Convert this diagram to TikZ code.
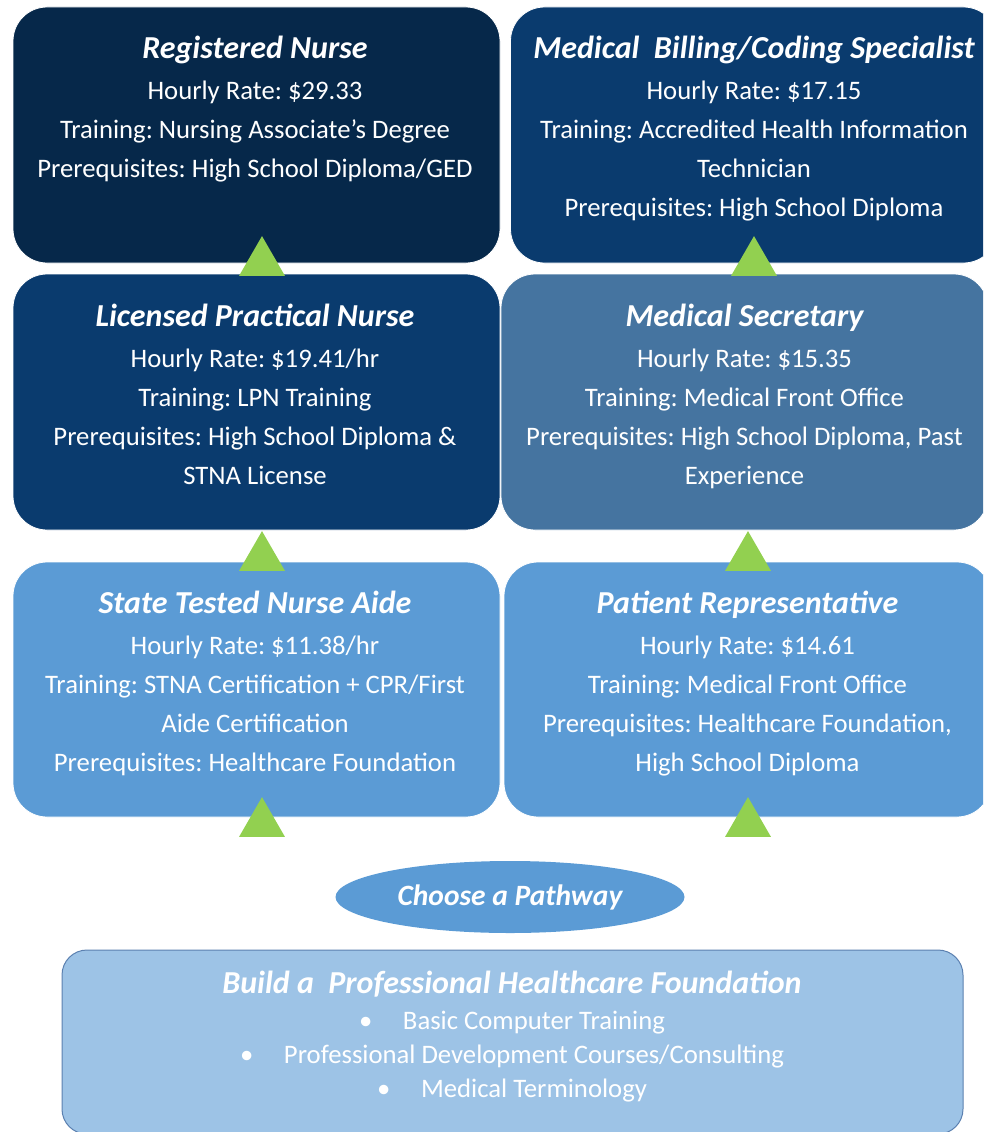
\documentclass[tikz,border=0pt]{standalone}
\usepackage{fontspec}
\setmainfont{Carlito}
\usetikzlibrary{shapes.geometric}
\frenchspacing
\definecolor{navyrn}{HTML}{06284A}
\definecolor{navymid}{HTML}{0A3B6E}
\definecolor{steelsec}{HTML}{4574A0}
\definecolor{skyblue}{HTML}{5B9BD5}
\definecolor{paleblue}{HTML}{9DC3E6}
\definecolor{paleline}{HTML}{5B80B0}
\definecolor{stepgreen}{HTML}{92D050}
\tikzset{
  jobbox/.style={rectangle, rounded corners=34, draw=white, line width=0.8pt, minimum width=487, minimum height=256, inner sep=0},
  jobtext/.style={text=white, align=center, anchor=north, inner sep=0, font={\fontsize{26.7}{39}\selectfont}},
  uptri/.style={regular polygon, regular polygon sides=3, fill=stepgreen, minimum size=53, inner sep=0, outer sep=0},
}
\newcommand{\jobtitle}[1]{{\fontsize{32}{39}\selectfont\bfseries\itshape #1}}
\begin{document}
\begin{tikzpicture}[x=1pt,y=-1pt]
  \useasboundingbox (0,0) rectangle (983,1132);
  \clip (0,0) rectangle (983,1132);
  % boxes
  \node[jobbox, fill=navyrn] (rn) at (256.5,135) {};
  \node[jobbox, fill=navymid] (mbc) at (754,135) {};
  \node[jobbox, fill=navymid] (lpn) at (256.5,402) {};
  \node[jobbox, fill=steelsec] (msec) at (744.5,402) {};
  \node[jobbox, fill=skyblue, minimum height=255] (stna) at (256.5,689.5) {};
  \node[jobbox, fill=skyblue, minimum height=255] (prep) at (747.5,689.5) {};
  \node[rectangle, rounded corners=25, fill=paleblue, draw=paleline, line width=1pt, minimum width=901, minimum height=184] (found) at (512.5,1042) {};
  \node[ellipse, fill=skyblue, minimum width=349, minimum height=72, inner sep=0, text=white, font={\fontsize{29.5}{32}\selectfont\bfseries\itshape}] (path) at (510,897) {Choose a Pathway};
  % texts
  \node[jobtext] (rntext) at (255,36) {\jobtitle{Registered Nurse}\\[2pt]Hourly Rate: \$29.33\\Training: Nursing Associate’s Degree\\Prerequisites: High School Diploma/GED};
  \node[jobtext] (mbctext) at (754,36) {\jobtitle{Medical\ \ Billing/Coding Specialist}\\[2pt]Hourly Rate: \$17.15\\Training: Accredited Health Information\\Technician\\Prerequisites: High School Diploma};
  \node[jobtext] (lpntext) at (255,304) {\jobtitle{Licensed Practical Nurse}\\[2pt]Hourly Rate: \$19.41/hr\\Training: LPN Training\\Prerequisites: High School Diploma \&\\STNA License};
  \node[jobtext] (msectext) at (744.5,304) {\jobtitle{Medical Secretary}\\[2pt]Hourly Rate: \$15.35\\Training: Medical Front Office\\Prerequisites: High School Diploma, Past\\Experience};
  \node[jobtext] (stnatext) at (255,591) {\jobtitle{State Tested Nurse Aide}\\[2pt]Hourly Rate: \$11.38/hr\\Training: STNA Certification + CPR/First\\Aide Certification\\Prerequisites: Healthcare Foundation};
  \node[jobtext] (preptext) at (747.5,591) {\jobtitle{Patient Representative}\\[2pt]Hourly Rate: \$14.61\\Training: Medical Front Office\\Prerequisites: Healthcare Foundation,\\High School Diploma};
  \node[jobtext, font={\fontsize{26.7}{34}\selectfont}] (foundtext) at (512,971) {\jobtitle{Build a\ \ Professional Healthcare Foundation}\\[2pt]\makebox[44pt][l]{\textbullet}Basic Computer Training\\\makebox[44pt][l]{\textbullet}Professional Development Courses/Consulting\\\makebox[44pt][l]{\textbullet}Medical Terminology};
  % steps up
  \node[uptri] (rnup) at (262,262.6) {};
  \node[uptri] (mbcup) at (754,262.6) {};
  \node[uptri] (lpnup) at (262,557.6) {};
  \node[uptri] (msecup) at (748,557.6) {};
  \node[uptri] (stnaup) at (262,823.6) {};
  \node[uptri] (prepup) at (748,823.6) {};
\end{tikzpicture}
\end{document}
